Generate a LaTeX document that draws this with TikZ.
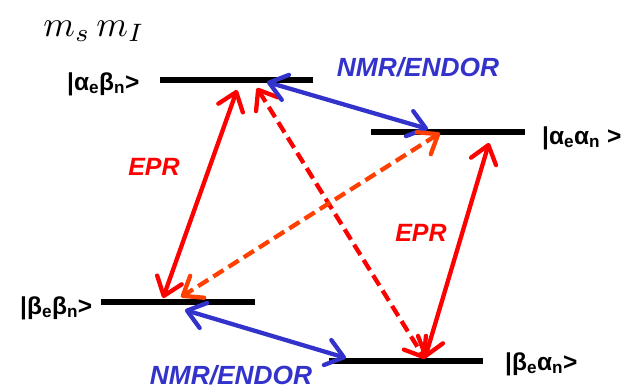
\documentclass[tikz,border=0pt]{standalone}
\usepackage{fontspec}
\setmainfont{Liberation Sans}
\usetikzlibrary{arrows.meta}
\definecolor{eprred}{RGB}{255,0,0}
\definecolor{orng}{RGB}{255,64,0}
\definecolor{nmrblue}{RGB}{51,51,204}
\begin{document}
\begin{tikzpicture}[x=1pt,y=-1pt,
  level/.style={line width=6pt, black},
  trans/.style={line width=4.3pt, {Straight Barb[length=17pt,width=26pt,round]}-{Straight Barb[length=17pt,width=26pt,round]}},
  dashline/.style={dash pattern=on 12pt off 6pt},
  lab/.style={font=\bfseries\fontsize{24.5}{27}\selectfont, inner sep=0pt},
  tlab/.style={font=\bfseries\itshape\fontsize{25}{28}\selectfont, inner sep=0pt}
]
\useasboundingbox (0,0) rectangle (632,389);
% levels
\coordinate (L1a) at (160,80);  \coordinate (L1b) at (313,80);
\coordinate (L2a) at (371,132); \coordinate (L2b) at (525,132);
\coordinate (L3a) at (101,302); \coordinate (L3b) at (255,302);
\coordinate (L4a) at (329,361); \coordinate (L4b) at (483,361);
\draw[level] (L1a) -- (L1b);
\draw[level] (L2a) -- (L2b);
\draw[level] (L3a) -- (L3b);
\draw[level] (L4a) -- (L4b);
% state labels
\node[lab, anchor=west] (s1) at (67,84) {|α\textsubscript{e}β\textsubscript{n}>};
\node[lab, anchor=west] (s2) at (542,138) {|α\textsubscript{e}α\textsubscript{n} >};
\node[lab, anchor=west] (s3) at (20,308) {|β\textsubscript{e}β\textsubscript{n}>};
\node[lab, anchor=west] (s4) at (505,364) {|β\textsubscript{e}α\textsubscript{n}>};
% m_s m_I
\node[inner sep=0pt, scale=3.6] (ms) at (94,31) {$m_s\, m_I$};
% transition endpoints
\coordinate (a1) at (237,90);  \coordinate (a2) at (163,298);
\coordinate (b1) at (257,88);  \coordinate (b2) at (425,359);
\coordinate (c1) at (267,82);  \coordinate (c2) at (428,129);
\coordinate (d1) at (440,133); \coordinate (d2) at (181,297);
\coordinate (e1) at (489,143); \coordinate (e2) at (425,358);
\coordinate (f1) at (185,310); \coordinate (f2) at (346,358);
% transitions
\draw[trans, eprred] (a1) -- (a2);
\draw[trans, eprred, dashline] (b1) -- (b2);
\draw[trans, nmrblue] (c1) -- (c2);
\draw[trans, orng, dashline] (d1) -- (d2);
\draw[trans, eprred] (e1) -- (e2);
\draw[trans, nmrblue] (f1) -- (f2);
% transition labels
\node[tlab, text=nmrblue, font=\bfseries\itshape\fontsize{26.3}{29}\selectfont] (n1) at (418,67) {NMR/ENDOR};
\node[tlab, text=nmrblue, font=\bfseries\itshape\fontsize{26.3}{29}\selectfont] (n2) at (231,375) {NMR/ENDOR};
\node[tlab, text=eprred] (p1) at (154,167) {EPR};
\node[tlab, text=eprred] (p2) at (421,233) {EPR};
\end{tikzpicture}
\end{document}
